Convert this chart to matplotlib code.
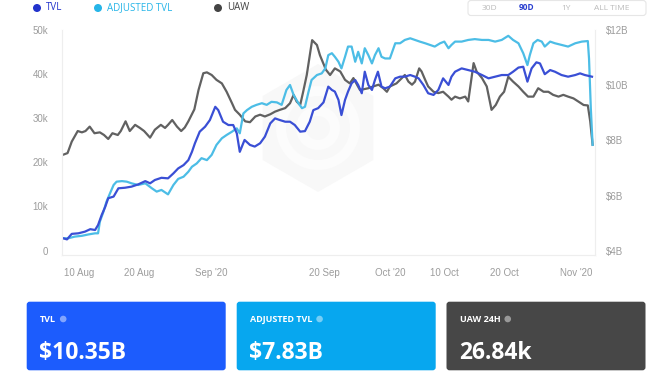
import numpy as np
import pandas as pd
import matplotlib
matplotlib.use("Agg")
import matplotlib.pyplot as plt
from matplotlib.patches import FancyBboxPatch, RegularPolygon, Circle

# days since 7 Aug 2020
uaw_day = [0.0, 1.0, 1.7, 2.7, 3.4, 4.0, 4.7, 5.5, 6.4, 7.1,
           7.8, 8.5, 9.4, 9.9, 10.7, 11.4, 12.3, 13.1, 13.8, 14.8,
           15.6, 16.6, 17.3, 17.8, 18.5, 19.3, 20.0, 20.6, 21.2, 22.2,
           22.9, 23.7, 24.3, 25.1, 25.9, 26.8, 27.6, 28.5, 29.0, 29.8,
           30.7, 31.5, 32.4, 33.2, 34.0, 34.9, 35.7, 36.5, 37.4, 38.2,
           38.8, 39.3, 39.9, 40.4, 41.0, 41.6, 41.9, 42.7, 43.2, 44.2,
           44.9, 45.7, 46.6, 47.4, 48.2, 48.8, 49.4, 49.9, 51.3, 52.1,
           53.0, 53.8, 54.4, 54.9, 56.0, 56.9, 57.4, 58.0, 58.6, 59.1,
           59.8, 60.2, 60.8, 61.3, 62.2, 63.0, 63.8, 64.7, 65.2, 65.8,
           66.6, 67.5, 68.0, 68.9, 69.4, 70.3, 71.1, 71.9, 72.6, 73.3,
           74.0, 74.7, 75.5, 76.4, 77.2, 78.0, 78.9, 79.7, 80.6, 81.4,
           82.2, 83.1, 83.9, 84.7, 85.6, 86.4, 87.3, 88.0, 88.4, 88.8]
uaw_k = [21.6, 22.1, 24.7, 27.1, 26.8, 27.1, 28.1, 26.6, 26.8, 26.2,
         25.3, 26.6, 26.2, 27.1, 29.3, 27.1, 28.5, 27.8, 27.1, 25.6,
         27.4, 28.5, 27.8, 28.5, 29.6, 28.1, 27.1, 27.9, 29.3, 32.0,
         36.4, 40.2, 40.4, 39.8, 38.7, 37.9, 36.0, 33.4, 31.9, 30.8,
         29.3, 29.1, 30.4, 30.8, 30.4, 30.9, 31.5, 31.9, 32.3, 33.4,
         35.3, 33.8, 33.0, 36.0, 39.8, 45.1, 47.7, 46.6, 44.3, 41.0,
         39.8, 41.3, 40.6, 38.7, 37.9, 39.1, 37.6, 36.4, 36.8, 37.2,
         37.6, 36.8, 36.0, 37.2, 37.9, 39.1, 39.8, 38.3, 37.6, 38.3,
         41.3, 40.6, 38.7, 37.2, 36.0, 35.7, 36.0, 34.9, 34.2, 34.9,
         34.5, 34.9, 33.8, 42.5, 40.6, 39.1, 37.2, 31.9, 33.0, 34.9,
         36.0, 39.4, 38.3, 37.2, 36.0, 34.9, 34.9, 36.8, 36.0, 36.0,
         35.3, 34.9, 35.3, 34.9, 34.5, 33.8, 33.0, 32.9, 29.3, 24.0]

tvl_day = [0.0, 0.9, 1.7, 2.8, 3.9, 4.8, 5.6, 6.1, 6.7, 7.3,
           7.8, 8.7, 9.5, 10.6, 11.7, 12.8, 14.0, 14.8, 15.6, 16.7,
           17.8, 18.7, 19.5, 20.4, 21.2, 21.8, 22.3, 23.1, 24.0, 24.8,
           25.7, 26.2, 27.0, 27.9, 28.7, 29.3, 29.8, 30.6, 31.5, 32.3,
           33.2, 34.0, 34.9, 35.7, 36.5, 37.4, 38.2, 39.0, 39.9, 40.7,
           41.5, 42.1, 42.9, 43.8, 44.6, 45.2, 45.7, 46.3, 46.8, 47.4,
           47.9, 48.5, 49.1, 49.6, 50.2, 50.7, 51.3, 51.9, 52.4, 52.9,
           53.5, 54.1, 54.9, 55.8, 56.6, 57.4, 58.3, 59.1, 59.7, 60.5,
           61.3, 62.2, 63.0, 63.8, 64.7, 65.2, 65.8, 66.9, 68.0, 69.1,
           70.3, 71.4, 72.5, 73.6, 74.7, 75.5, 76.4, 77.2, 77.9, 78.6,
           79.4, 80.0, 80.8, 81.7, 82.5, 83.6, 84.7, 85.9, 86.7, 87.5, 88.7]
tvl_b = [4.48, 4.42, 4.62, 4.64, 4.70, 4.79, 4.76, 4.94, 5.30, 5.60,
         5.91, 5.97, 6.27, 6.29, 6.33, 6.41, 6.53, 6.45, 6.57, 6.65,
         6.63, 6.81, 6.99, 7.11, 7.29, 7.59, 7.90, 8.32, 8.50, 8.74,
         9.22, 9.10, 8.68, 8.56, 8.56, 8.26, 7.59, 8.02, 7.84, 7.78,
         7.90, 8.14, 8.62, 8.80, 8.74, 8.68, 8.68, 8.56, 8.32, 8.34,
         8.68, 9.10, 9.17, 9.38, 9.95, 9.83, 9.77, 9.47, 8.92, 9.47,
         9.77, 10.07, 10.19, 10.01, 9.71, 10.49, 10.01, 9.83, 10.19, 10.49,
         9.95, 9.89, 9.95, 10.25, 10.31, 10.31, 10.37, 10.31, 10.25, 10.01,
         9.71, 9.65, 9.83, 10.25, 10.01, 10.31, 10.49, 10.61, 10.55, 10.49,
         10.37, 10.25, 10.31, 10.37, 10.37, 10.49, 10.64, 10.67, 10.13, 10.61,
         10.83, 10.79, 10.40, 10.55, 10.49, 10.37, 10.31, 10.37, 10.43, 10.37, 10.31]

adj_day = [0.0, 1.1, 2.2, 3.4, 4.5, 5.6, 6.1, 6.4, 7.0, 7.5,
           8.1, 8.7, 9.2, 10.1, 10.9, 11.7, 12.8, 14.0, 15.1, 15.9,
           16.7, 17.8, 18.7, 19.5, 20.4, 21.2, 21.8, 22.6, 23.4, 24.3,
           25.1, 25.9, 26.8, 27.6, 28.5, 29.3, 29.8, 30.4, 31.0, 31.8,
           32.6, 33.5, 34.3, 35.1, 36.0, 36.8, 37.6, 38.2, 38.8, 39.6,
           40.2, 40.7, 41.3, 41.8, 42.7, 43.5, 44.1, 44.6, 45.2, 45.7,
           46.3, 46.8, 47.4, 47.9, 48.5, 49.1, 49.6, 50.2, 50.7, 51.3,
           51.9, 52.4, 53.0, 53.5, 54.1, 54.9, 55.8, 56.6, 57.4, 58.3,
           59.1, 59.9, 60.8, 61.6, 62.4, 63.3, 64.0, 64.7, 65.2, 65.8,
           66.9, 68.0, 69.1, 70.3, 71.4, 72.5, 73.6, 74.7, 75.5, 76.4,
           77.2, 77.9, 78.3, 78.9, 79.6, 80.3, 80.8, 81.7, 82.5, 83.6,
           84.7, 85.9, 87.0, 88.0, 88.2, 88.5, 88.8]
adj_tvl_b = [4.46, 4.46, 4.52, 4.55, 4.60, 4.64, 4.64, 5.06, 5.42, 5.78,
             6.09, 6.39, 6.51, 6.53, 6.51, 6.45, 6.39, 6.45, 6.27, 6.15,
             6.21, 6.05, 6.39, 6.61, 6.69, 6.87, 7.05, 7.17, 7.36, 7.29,
             7.48, 7.84, 8.08, 8.20, 8.32, 8.44, 8.26, 8.98, 9.10, 9.22,
             9.29, 9.35, 9.29, 9.40, 9.38, 9.29, 9.83, 10.01, 9.65, 9.35,
             9.17, 9.22, 9.77, 10.19, 10.37, 10.43, 10.61, 11.09, 11.16, 11.03,
             10.85, 10.61, 11.03, 11.40, 11.40, 10.85, 11.21, 10.79, 11.34, 11.09,
             10.79, 11.09, 11.34, 11.03, 10.97, 10.97, 11.52, 11.52, 11.64, 11.70,
             11.64, 11.58, 11.52, 11.46, 11.40, 11.52, 11.58, 11.34, 11.46, 11.58,
             11.58, 11.64, 11.67, 11.64, 11.64, 11.58, 11.64, 11.79, 11.64, 11.52,
             11.16, 10.73, 11.09, 11.52, 11.64, 11.58, 11.40, 11.58, 11.52, 11.46,
             11.40, 11.52, 11.58, 11.60, 10.97, 9.17, 7.84]

tick_dates = ["2020-08-10", "2020-08-20", "2020-09-01", "2020-09-20",
              "2020-10-01", "2020-10-10", "2020-10-20", "2020-11-01"]
tick_labels = ["10 Aug", "20 Aug", "Sep '20", "20 Sep", "Oct '20", "10 Oct", "20 Oct", "Nov '20"]
uaw_ticks = [0, 10, 20, 30, 40, 50]
uaw_tick_labels = ["0", "10k", "20k", "30k", "40k", "50k"]
tvl_ticks = [4, 6, 8, 10, 12]
tvl_tick_labels = ["$4B", "$6B", "$8B", "$10B", "$12B"]

cards = ["TVL", "ADJUSTED TVL", "UAW 24H"]
card_values = ["$10.35B", "$7.83B", "26.84k"]
card_colors = ["#1c5cfd", "#07a7ef", "#474747"]

legend_names = ["TVL", "ADJUSTED TVL", "UAW"]
legend_colors = ["#2233cc", "#26b5e8", "#444444"]
ranges = ["30D", "90D", "1Y", "ALL TIME"]

start = pd.Timestamp("2020-08-07")


def to_dates(days):
    return start + pd.to_timedelta(np.array(days), unit="D")


W, H = 660, 382
fig = plt.figure(figsize=(W / 100, H / 100), dpi=100)

# overlay in pixel coords for the decorations / cards
ov = fig.add_axes([0, 0, 1, 1])
ov.set_xlim(0, W)
ov.set_ylim(H, 0)
ov.axis("off")

# faint watermark logo behind the chart
ov.add_patch(RegularPolygon((318, 128), 6, radius=64, facecolor="#f8f8f8", edgecolor="none"))
for r, c in [(42, "#fcfcfc"), (32, "#f8f8f8"), (22, "#fcfcfc"), (12, "#f8f8f8")]:
    ov.add_patch(Circle((318, 128), r, facecolor=c, edgecolor="none"))

ax = fig.add_axes([62 / W, 1 - 255 / H, (595 - 62) / W, (255 - 30) / H])
ax.patch.set_visible(False)
ax2 = ax.twinx()

ax.plot(to_dates(uaw_day), uaw_k, color="#616161", lw=1.6, solid_joinstyle="round")
ax2.plot(to_dates(adj_day), adj_tvl_b, color="#4cbde6", lw=1.6, solid_joinstyle="round")
ax2.plot(to_dates(tvl_day), tvl_b, color="#3a4fd5", lw=1.6, solid_joinstyle="round")

ax.set_xlim(start + pd.Timedelta(days=0.07), start + pd.Timedelta(days=89.2))
ax.set_ylim(-1, 50)
ax2.set_ylim(4 - 8 / 55.25, 12)

ax.set_xticks(pd.to_datetime(tick_dates))
ax.set_xticklabels(tick_labels)
ax.set_yticks(uaw_ticks)
ax.set_yticklabels(uaw_tick_labels)
ax2.set_yticks(tvl_ticks)
ax2.set_yticklabels(tvl_tick_labels)

for a in (ax, ax2):
    for s in a.spines.values():
        s.set_color("#eeeeee")
        s.set_linewidth(0.8)
    a.spines["top"].set_visible(False)
    a.tick_params(length=0, labelsize=7, labelcolor="#9c9c9c")
    for t in a.get_xticklabels() + a.get_yticklabels():
        t.set_fontfamily("Liberation Sans")
ax.tick_params(axis="x", pad=9)
ax.tick_params(axis="y", pad=10)
ax2.tick_params(axis="y", pad=8)

# legend and range buttons at the top
leg_x = [37, 98, 218]
for x, name, c in zip(leg_x, legend_names, legend_colors):
    ov.add_patch(Circle((x, 8), 4, facecolor=c, edgecolor="none"))
    ov.text(x + 9, 8, name, color=c, fontsize=7, va="center", ha="left",
            fontfamily="Open Sans")
ov.add_patch(FancyBboxPatch((468, 0.5), 178, 15, boxstyle="round,pad=0,rounding_size=3",
                            facecolor="white", edgecolor="#e6e6e6", lw=0.8))
for x, r in zip([489, 527, 566, 612], ranges):
    ov.text(x, 8, r, fontsize=6, ha="center", va="center", fontfamily="Open Sans",
            color="#2a3fd0" if r == "90D" else "#bbbbbb",
            fontweight="bold" if r == "90D" else "normal")

# summary cards
card_x = [26.7, 236.7, 446.5]
labels = []
for x, label, val, c in zip(card_x, cards, card_values, card_colors):
    ov.add_patch(FancyBboxPatch((x, 301.7), 199, 68.6, boxstyle="round,pad=0,rounding_size=3",
                                facecolor=c, edgecolor="none"))
    labels.append(ov.text(x + 13.5, 319, label, color="white", fontsize=6.5, fontweight="bold",
                          va="center", ha="left", fontfamily="Open Sans"))
    ov.text(x + 12.5, 353, val, color="white", fontsize=16.5, fontweight="bold",
            va="center", ha="left", fontfamily="Open Sans")

fig.canvas.draw()
r = fig.canvas.get_renderer()
for t in labels:
    bb = t.get_window_extent(r)
    ov.add_patch(Circle((bb.x1 + 7, 319), 3.3, facecolor="white", alpha=0.45, edgecolor="none"))

fig.savefig("out.png", dpi=100)
